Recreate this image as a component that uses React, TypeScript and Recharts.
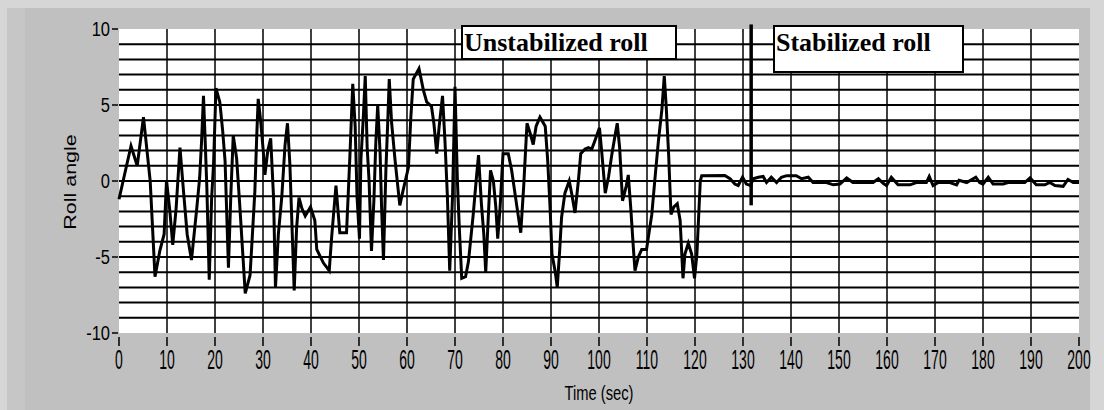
import React from "react";
import { LineChart, Line, XAxis, YAxis, CartesianGrid, ReferenceLine } from "recharts";

// time (sec) and roll angle
const TIME = [
  0, 2.5, 3.8, 5.1, 6.5, 7.5, 8.5, 9.4, 9.9, 10.6, 11.2, 11.9, 12.7, 13.5, 14.2, 15.1, 16.2, 16.8, 17.2, 17.6,
  17.9, 18.3, 18.8, 19.3, 19.7, 20.2, 21.0, 21.6, 22.1, 22.8, 23.3, 23.8, 24.5, 25.2, 26.3, 27.3, 27.8, 28.3, 28.7, 29.0,
  29.5, 30.1, 30.4, 31.0, 31.6, 32.2, 32.6, 33.2, 33.9, 34.6, 35.1, 35.6, 36.0, 36.5, 37.0, 37.5, 38.1, 38.8, 39.9, 40.8,
  41.2, 42.6, 43.8, 44.3, 45.2, 46.0, 47.4, 48.1, 48.7, 49.2, 49.6, 50.1, 50.4, 50.9, 51.3, 51.7, 52.1, 52.6, 53.1, 53.5,
  53.9, 54.4, 54.7, 55.1, 55.6, 56.0, 56.3, 56.8, 57.5, 58.5, 59.2, 60.3, 60.8, 61.3, 62.5, 63.4, 64.1, 65.1, 65.6, 66.2,
  66.7, 67.4, 67.9, 68.4, 68.9, 69.5, 70.0, 70.5, 70.9, 71.4, 72.2, 72.8, 73.8, 74.4, 74.9, 75.5, 76.0, 76.4, 76.9, 77.4,
  78.0, 78.5, 78.9, 79.4, 80.0, 81.1, 81.8, 82.9, 83.7, 84.3, 85.0, 85.7, 86.3, 86.9, 87.7, 88.8, 89.3, 89.8, 90.2, 90.9,
  91.3, 91.8, 92.2, 92.9, 93.8, 94.3, 95.0, 95.7, 96.2, 97.1, 97.8, 98.5, 99.2, 100.1, 100.6, 101.3, 102.0, 102.7, 103.4, 103.8,
  104.3, 104.9, 105.7, 106.1, 106.6, 107.2, 107.5, 108.2, 108.9, 109.9, 111.0, 111.7, 112.4, 113.1, 113.6, 114.0, 114.5, 115.0, 115.6, 116.3,
  116.9, 117.5, 117.9, 118.6, 119.3, 119.9, 120.4, 121.1, 121.4, 126.2, 127.3, 128.3, 129.0, 129.9, 130.7, 131.6, 132.1, 133.2, 134.2, 134.9,
  135.9, 137.0, 138.0, 139.1, 141.1, 142.2, 143.6, 144.6, 147.4, 148.8, 150.2, 151.6, 152.9, 157.1, 158.2, 159.2, 159.9, 160.9, 162.3, 164.8,
  166.1, 168.2, 168.8, 169.6, 170.7, 173.1, 174.5, 175.0, 176.6, 178.5, 179.3, 180.0, 181.1, 182.1, 184.2, 185.2, 188.7, 189.8, 191.1, 192.9,
  193.9, 195.0, 196.7, 197.7, 198.8, 200,
];
const ROLL = [
  -1.2, 2.3, 1.0, 4.2, 0, -6.3, -4.6, -3.5, 0.05, -2.0, -4.2, -1.8, 2.2, -0.9, -3.5, -5.2, -1.8, 0.2, 2.6, 5.6,
  3.1, -0.4, -6.5, -1.1, 1.1, 6.1, 5.2, 3.3, 1.3, -5.7, -0.9, 3.0, 1.5, -1.8, -7.4, -6.2, -3.5, -0.7, 3.0, 5.4,
  4.0, 1.8, 0.4, 2.0, 2.8, -1.1, -7.0, -3.5, -1.1, 2.4, 3.8, 1.1, -2.6, -7.2, -3.1, -1.1, -1.8, -2.3, -1.7, -2.6,
  -4.5, -5.4, -5.9, -3.7, -0.3, -3.4, -3.4, 1.6, 6.4, 3.6, -1.1, -3.8, 1.4, 4.2, 6.9, 2.2, 0, -4.6, -1.3, 2.5,
  5.0, 1.8, -1.7, -5.2, 0.7, 4.0, 6.7, 3.8, 1.4, -1.6, -0.6, 0.9, 4.2, 6.7, 7.4, 6.0, 5.2, 4.9, 3.8, 1.8,
  3.6, 5.6, 2.7, -0.9, -5.9, -0.9, 6.2, 0, -3.1, -6.4, -6.3, -5.3, -2.2, 0, 1.7, -1.5, -3.5, -6.0, -2.6, 0.7,
  0, -1.7, -3.8, -1.7, 1.8, 1.8, 0.7, -1.7, -3.4, -0.4, 3.8, 3.1, 2.4, 3.6, 4.2, 3.6, 1.4, -1.7, -4.8, -6.0,
  -7.0, -4.6, -2.4, -0.8, 0, -0.8, -2.1, 0, 1.8, 2.1, 2.2, 2.1, 2.7, 3.5, 1.8, -0.8, 0.3, 1.8, 3.1, 3.8,
  2.2, -1.3, -0.3, 0.4, -1.7, -4.6, -5.9, -5.0, -4.5, -4.5, -2.2, 0.3, 2.7, 4.7, 6.9, 4.9, 1.8, -2.2, -1.7, -1.5,
  -2.6, -6.4, -4.8, -4.1, -4.8, -6.4, -4.8, 0, 0.35, 0.36, 0.15, -0.2, -0.3, 0.25, -0.2, -0.3, 0.15, 0.25, 0.3, -0.1,
  0.25, -0.1, 0.25, 0.35, 0.35, 0.15, 0.25, -0.1, -0.1, -0.25, -0.2, 0.2, -0.1, -0.1, 0.15, -0.15, -0.3, 0.25, -0.25, -0.25,
  -0.1, -0.1, 0.3, -0.3, -0.1, -0.1, -0.25, 0.05, -0.1, 0.25, -0.1, -0.2, 0.25, -0.2, -0.2, -0.1, -0.1, 0.2, -0.25, -0.25,
  -0.1, -0.3, -0.35, 0.1, -0.1, -0.1,
];

const X_TICKS = [0, 10, 20, 30, 40, 50, 60, 70, 80, 90, 100, 110, 120, 130, 140, 150, 160, 170, 180, 190, 200];
const Y_TICKS = [-10, -5, 0, 5, 10];
const GRID_X = [10, 20, 30, 40, 50, 60, 70, 80, 90, 100, 110, 120, 130, 140, 150, 160, 170, 180, 190];
const GRID_Y = [-9, -8, -7, -6, -5, -4, -3, -2, -1, 0, 1, 2, 3, 4, 5, 6, 7, 8, 9];

// marker where the stabilizer was switched on
const MARKER_T = 131.7;
const MARKER_TOP = 10.3;
const MARKER_BOTTOM = -1.6;

const data = TIME.map((t, i) => ({ t, roll: ROLL[i] }));

const tickFont = "'Liberation Sans', Arial, sans-serif";

const YTick = (props: any) => {
  const { y, payload } = props;
  return (
    <g>
      <line x1={112} x2={118} y1={y} y2={y} stroke="#000" strokeWidth={1.5} />
      <text
        transform={`translate(110,${y + 7}) scale(1,1.2)`}
        textAnchor="end"
        fontFamily={tickFont}
        fontSize={16.5}
        fill="#000"
      >
        {payload.value}
      </text>
    </g>
  );
};

const XTick = (props: any) => {
  const { x, payload } = props;
  return (
    <g>
      <line x1={x} x2={x} y1={337} y2={346} stroke="#000" strokeWidth={1.5} />
      <text
        transform={`translate(${x},369) scale(1,2)`}
        textAnchor="middle"
        fontFamily={tickFont}
        fontSize={14}
        fill="#000"
      >
        {payload.value}
      </text>
    </g>
  );
};

const boxText: React.CSSProperties = {
  position: "absolute",
  top: 25,
  boxSizing: "border-box",
  background: "#fff",
  border: "2px solid #000",
  fontFamily: "'Liberation Serif', 'Times New Roman', serif",
  fontWeight: 700,
  fontSize: 26,
  lineHeight: "26px",
  paddingTop: 3,
  whiteSpace: "nowrap",
  color: "#000",
};

export default function App() {
  return (
    <div style={{ position: "absolute", left: 0, top: 0, width: 1104, height: 410, background: "#d6d6d6", overflow: "hidden" }}>
      <div style={{ position: "absolute", left: 7, top: 8, right: 14, bottom: 0, background: "#c6c6c6" }} />
      <div style={{ position: "absolute", left: 25, top: 8, right: 14, bottom: 0, background: "#c0c0c0" }} />
      <div style={{ position: "absolute", left: 0, top: 0 }}>
        <LineChart width={1104} height={410} data={data} margin={{ top: 29, right: 25, bottom: 0, left: 0 }}>
          <CartesianGrid
            horizontalValues={GRID_Y}
            vertical={false}
            stroke="#000"
            strokeWidth={2}
            fill="#fff"
            fillOpacity={1}
          />
          <CartesianGrid verticalValues={GRID_X} horizontal={false} stroke="#000" strokeWidth={1.5} />
          <XAxis
            dataKey="t"
            type="number"
            domain={[0, 200]}
            ticks={X_TICKS}
            interval={0}
            height={77}
            axisLine={false}
            tickLine={false}
            tick={<XTick />}
            label={{
              content: (p: any) => {
                const vb = p.viewBox;
                return (
                  <text
                    transform={`translate(${vb.x + vb.width / 2},${vb.y + 67}) scale(0.92,1.3)`}
                    textAnchor="middle"
                    fontFamily={tickFont}
                    fontSize={16}
                    fill="#000"
                  >
                    Time (sec)
                  </text>
                );
              },
            }}
          />
          <YAxis
            type="number"
            domain={[-10, 10]}
            ticks={Y_TICKS}
            interval={0}
            width={119}
            axisLine={false}
            tickLine={false}
            tick={<YTick />}
            label={{
              content: (p: any) => {
                const vb = p.viewBox;
                return (
                  <text
                    transform={`translate(76,${vb.y + vb.height / 2 + 1}) rotate(-90) scale(1.3,1)`}
                    textAnchor="middle"
                    fontFamily={tickFont}
                    fontSize={16.5}
                    fill="#000"
                  >
                    Roll angle
                  </text>
                );
              },
            }}
          />
          <Line
            dataKey="roll"
            type="linear"
            stroke="#000"
            strokeWidth={3}
            dot={false}
            isAnimationActive={false}
          />
          <ReferenceLine
            segment={[
              { x: MARKER_T, y: MARKER_TOP },
              { x: MARKER_T, y: MARKER_BOTTOM },
            ]}
            ifOverflow="visible"
            stroke="#000"
            strokeWidth={3.5}
          />
        </LineChart>
      </div>
      <div style={{ ...boxText, left: 461, width: 216, height: 35, paddingLeft: 1 }}>Unstabilized roll</div>
      <div style={{ ...boxText, left: 773, width: 191, height: 48, paddingLeft: 1 }}>Stabilized roll</div>
    </div>
  );
}
